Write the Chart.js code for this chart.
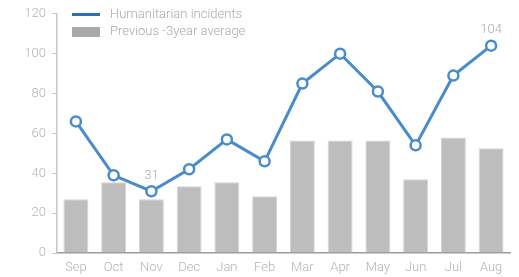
<!DOCTYPE html>
<html>
<head>
<meta charset="utf-8">
<script src="https://cdn.jsdelivr.net/npm/chart.js"></script>
<style>
  html, body { margin: 0; padding: 0; background: #fff; }
  #wrap { position: relative; width: 519px; height: 277px; }
  #legend { position: absolute; left: 72px; top: 5px; font: 300 13px Roboto, sans-serif; color: #a9a9a9; }
  #legend div { height: 17px; line-height: 17px; white-space: nowrap; }
  #legend span.sw { display: inline-block; width: 28px; margin-right: 10px; vertical-align: middle; }
</style>
</head>
<body>
<div id="wrap">
  <canvas id="c" width="519" height="277"></canvas>
  <div id="legend">
    <div><span class="sw" style="height:3px;background:#2a6fb8"></span>Humanitarian incidents</div>
    <div><span class="sw" style="height:10px;background:#a9a9a9"></span>Previous -3year average</div>
  </div>
</div>
<script>
var months = ['Sep', 'Oct', 'Nov', 'Dec', 'Jan', 'Feb', 'Mar', 'Apr', 'May', 'Jun', 'Jul', 'Aug'];
var incidents = [66, 39, 31, 42, 57, 46, 85, 100, 81, 54, 89, 104];
var prevAverage = [27, 35.5, 27, 33.5, 35.5, 28.5, 56.5, 56.5, 56.5, 37, 58, 52.5];
var labelled = [2, 11]; // points that carry a value label

var tickColor = '#b3b3b3';
var tickFont = { family: 'Roboto, sans-serif', size: 13, weight: 300 };

// value labels above selected points
var pointLabels = {
  id: 'pointLabels',
  afterDatasetsDraw: function(chart) {
    var ctx = chart.ctx;
    var meta = chart.getDatasetMeta(0);
    ctx.save();
    ctx.font = '300 13px Roboto, sans-serif';
    ctx.fillStyle = '#a9a9a9';
    ctx.textAlign = 'center';
    ctx.textBaseline = 'bottom';
    labelled.forEach(function(i) {
      var p = meta.data[i];
      ctx.fillText(incidents[i], p.x, p.y - 9);
    });
    ctx.restore();
  }
};

new Chart(document.getElementById('c'), {
  data: {
    labels: months,
    datasets: [{
      type: 'line',
      label: 'Humanitarian incidents',
      data: incidents,
      borderColor: '#4a8ccb',
      borderWidth: 3,
      pointRadius: 5,
      pointBorderWidth: 2.5,
      pointBackgroundColor: '#fff',
      pointBorderColor: '#4a8ccb',
      tension: 0,
      order: 0
    }, {
      type: 'bar',
      label: 'Previous -3year average',
      data: prevAverage,
      backgroundColor: '#bdbdbd',
      borderColor: '#d3d3d3',
      borderWidth: 1,
      categoryPercentage: 1,
      barPercentage: 0.66,
      order: 1
    }]
  },
  options: {
    responsive: false,
    animation: false,
    layout: { padding: { left: 0, right: 9, top: 12, bottom: 0 } },
    plugins: { legend: { display: false }, tooltip: { enabled: false } },
    scales: {
      x: {
        grid: { display: false, drawTicks: false, tickLength: 0 },
        border: { color: '#9a9a9a', width: 1.5 },
        ticks: { color: tickColor, font: tickFont, padding: 7 },
        afterFit: function(s) { s.height = 24; }
      },
      y: {
        min: 0, max: 120,
        grid: { drawOnChartArea: false, tickLength: 5, color: '#c8c8c8' },
        border: { color: '#c8c8c8', width: 1.5 },
        ticks: { stepSize: 20, color: tickColor, font: tickFont, padding: 6 },
        afterFit: function(s) { s.width = 57; }
      }
    }
  },
  plugins: [pointLabels]
});
</script>
</body>
</html>
